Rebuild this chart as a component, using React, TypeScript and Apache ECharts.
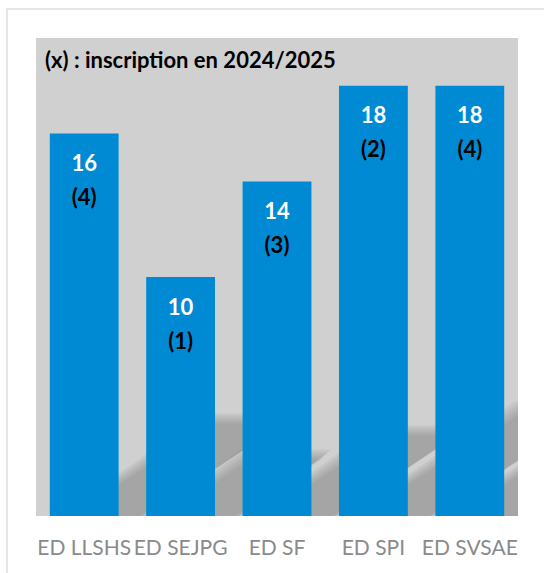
import React, { useEffect, useRef } from "react";
import * as echarts from "echarts";

const categories = ["ED LLSHS", "ED SEJPG", "ED SF", "ED SPI", "ED SVSAE"];
const doctorants = [16, 10, 14, 18, 18];
const inscrits2024 = [4, 1, 3, 2, 4];
const titleText = "(x) : inscription en 2024/2025";
const yMin = 0;
const yMax = 20;

export default function App() {
  const ref = useRef<HTMLDivElement>(null);

  useEffect(() => {
    if (!ref.current) return;
    const chart = echarts.init(ref.current, undefined, { renderer: "svg" });
    const font = "Lato, 'Open Sans', sans-serif";
    const blurSteps = [7, 5, 3, 1, -1, -3];
    chart.setOption({
      animation: false,
      backgroundColor: "#ffffff",
      title: {
        text: titleText,
        left: 40,
        top: 43,
        textStyle: { fontFamily: font, fontWeight: "bold", fontSize: 22, color: "#000000" },
      },
      graphic: [
        {
          type: "rect",
          shape: { x: 7, y: 9, width: 600, height: 600 },
          style: { fill: "none", stroke: "#e6e6e6", lineWidth: 2 },
          silent: true,
          z: -1,
        },
      ],
      grid: {
        left: 36,
        top: 38,
        right: 26,
        bottom: 57,
        show: true,
        backgroundColor: "#d0d0d0",
        borderWidth: 0,
      },
      xAxis: {
        type: "category",
        data: categories,
        axisLine: { show: false },
        axisTick: { show: false },
        axisLabel: {
          fontFamily: font,
          fontSize: 21,
          color: "#8a8a8a",
          margin: 20,
          interval: 0,
        },
      },
      yAxis: {
        type: "value",
        min: yMin,
        max: yMax,
        show: false,
        splitLine: { show: false },
      },
      series: [
        {
          type: "custom",
          clip: true,
          z: 1,
          silent: true,
          data: categories.map((c, i) => [i, doctorants[i]]),
          encode: { x: 0, y: 1 },
          renderItem: (params: any, api: any) => {
            const idx = api.value(0);
            const v = api.value(1);
            const base = api.coord([idx, 0]);
            const top = api.coord([idx, v]);
            const band = api.size([1, 0])[0];
            const bw = band * 0.714;
            const x0 = base[0] - bw / 2;
            const x1 = base[0] + bw / 2;
            const H = base[1] - top[1];
            const sh = H * 0.25;
            const s = sh * 1.7;
            const y0 = base[1];
            const yt = y0 - sh;
            return {
              type: "group",
              children: blurSteps.map((e) => ({
                type: "polygon",
                shape: {
                  points: [
                    [x0 - e, y0 + 10],
                    [x1 + 8 + e, y0 + 10],
                    [x1 + 8 + s + e, yt - e],
                    [x0 + s - e, yt - e],
                  ],
                },
                style: { fill: "rgba(120,120,120,0.095)" },
              })),
            };
          },
        },
        {
          type: "bar",
          z: 2,
          barWidth: "71.4%",
          data: doctorants,
          itemStyle: { color: "#008ad4" },
          label: {
            show: true,
            position: "insideTop",
            distance: 12,
            formatter: (p: any) => `{a|${p.value}}\n{b|(${inscrits2024[p.dataIndex]})}`,
            rich: {
              a: { fontFamily: font, fontWeight: "bold", fontSize: 22, color: "#ffffff", lineHeight: 34 },
              b: { fontFamily: font, fontWeight: "bold", fontSize: 22, color: "#000000", lineHeight: 34 },
            },
          },
        },
      ],
    });
    return () => chart.dispose();
  }, []);

  return (
    <div
      ref={ref}
      style={{ position: "absolute", left: 0, top: 0, width: 544, height: 573 }}
    />
  );
}
